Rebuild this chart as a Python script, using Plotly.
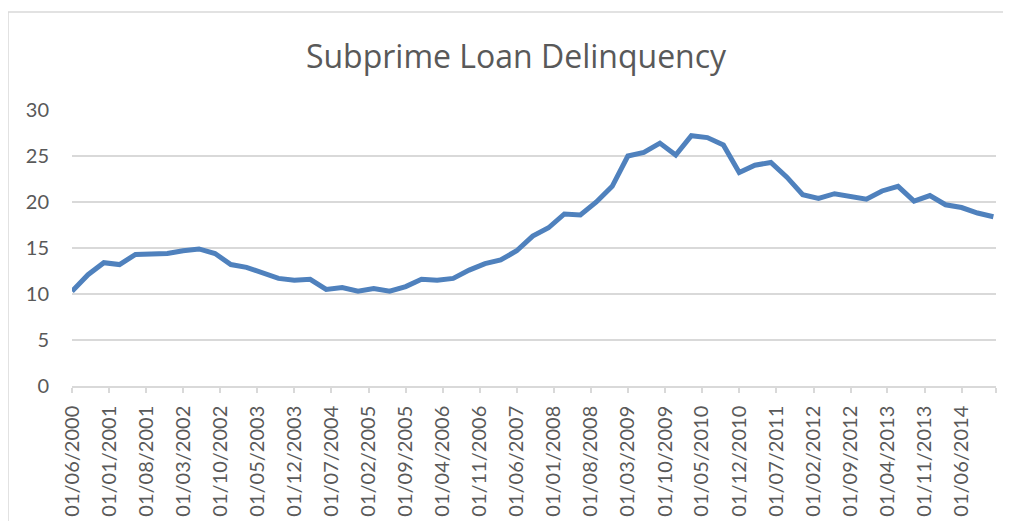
import pandas as pd
import plotly.graph_objects as go

# Quarterly observation dates (Jun 2000 .. Dec 2014)
dates = pd.date_range(start="2000-06-01", periods=59, freq="3MS")

delinquency = [
    10.3, 12.1, 13.4, 13.2, 14.3, 14.3, 14.4, 14.7, 14.9, 14.4,
    13.2, 12.9, 12.3, 11.7, 11.5, 11.6, 10.5, 10.7, 10.3, 10.6,
    10.3, 10.8, 11.6, 11.5, 11.7, 12.6, 13.3, 13.7, 14.7, 16.3,
    17.2, 18.7, 18.6, 20.0, 21.7, 25.0, 25.4, 26.4, 25.1, 27.2,
    27.0, 26.2, 23.2, 24.0, 24.3, 22.7, 20.8, 20.4, 20.9, 20.6,
    20.3, 21.2, 21.7, 20.1, 20.7, 19.7, 19.4, 18.8, 18.4,
]

tick_dates = [
    "2000-06-01", "2001-01-01", "2001-08-01", "2002-03-01", "2002-10-01",
    "2003-05-01", "2003-12-01", "2004-07-01", "2005-02-01", "2005-09-01",
    "2006-04-01", "2006-11-01", "2007-06-01", "2008-01-01", "2008-08-01",
    "2009-03-01", "2009-10-01", "2010-05-01", "2010-12-01", "2011-07-01",
    "2012-02-01", "2012-09-01", "2013-04-01", "2013-11-01", "2014-06-01",
    "2014-12-16",
]
tick_labels = [
    "01/06/2000", "01/01/2001", "01/08/2001", "01/03/2002", "01/10/2002",
    "01/05/2003", "01/12/2003", "01/07/2004", "01/02/2005", "01/09/2005",
    "01/04/2006", "01/11/2006", "01/06/2007", "01/01/2008", "01/08/2008",
    "01/03/2009", "01/10/2009", "01/05/2010", "01/12/2010", "01/07/2011",
    "01/02/2012", "01/09/2012", "01/04/2013", "01/11/2013", "01/06/2014",
    "",
]

TXT = "#595959"
GRID = "#D9D9D9"
FONT = "Lato"

# page has an 8px body margin; figure sized to fit inside the window
W, H = 995, 513
L, R, T, B = 64, 7, 102, 135
PW = W - L - R
PH = H - T - B

fig = go.Figure()
fig.add_trace(go.Scatter(
    x=dates, y=delinquency, mode="lines",
    line=dict(color="#4F81BD", width=5, shape="linear"),
    showlegend=False,
))

bx0 = (0 - L) / PW
bx1 = (W + 60 - L) / PW
by0 = -(B + 60) / PH
by1 = (PH + T - 4) / PH

fig.update_layout(
    width=W, height=H,
    margin=dict(l=L, r=R, t=T, b=B, autoexpand=False),
    paper_bgcolor="white", plot_bgcolor="white",
    font=dict(family=FONT, color=TXT, size=20),
    title=dict(
        text="Subprime Loan Delinquency",
        font=dict(family="Open Sans", size=32, color=TXT),
        x=508 / W, xanchor="center", xref="container",
        y=1 - 49 / H, yanchor="middle", yref="container",
    ),
    xaxis=dict(
        type="date",
        range=["2000-06-01", "2014-12-16"],
        tickmode="array", tickvals=tick_dates, ticktext=tick_labels,
        tickangle=-90, ticks="outside", ticklen=5, tickcolor=GRID, tickwidth=1.5,
        showline=True, linecolor=GRID, linewidth=1.5,
        showgrid=False, zeroline=False, automargin=False,
        ticklabelstandoff=5,
        tickfont=dict(family=FONT, size=20, color=TXT),
    ),
    yaxis=dict(
        range=[0, 30], tickmode="array", tickvals=[0, 5, 10, 15, 20, 25, 30],
        showgrid=True, gridcolor=GRID, gridwidth=1.5,
        showline=False, zeroline=False, ticks="", automargin=False,
        ticklabelstandoff=22,
        tickfont=dict(family=FONT, size=20, color=TXT),
    ),
    shapes=[
        dict(type="line", xref="paper", yref="paper",
             x0=bx0, x1=bx1, y0=by1, y1=by1,
             line=dict(color=GRID, width=1.5), layer="below"),
        dict(type="line", xref="paper", yref="paper",
             x0=bx0, x1=bx0, y0=by0, y1=by1,
             line=dict(color=GRID, width=1.5), layer="below"),
    ],
)

fig.write_html("out.html", config={"displayModeBar": False})
